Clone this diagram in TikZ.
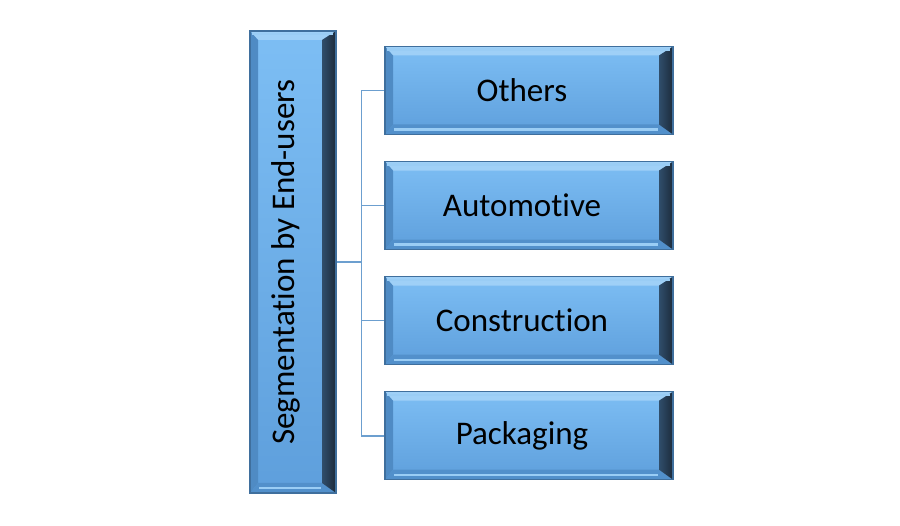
\documentclass[tikz,border=0pt]{standalone}
\usepackage{fontspec}
\setmainfont{Carlito}[Ligatures=NoCommon]
\usepackage{graphicx}
\usetikzlibrary{positioning,calc}
\definecolor{facetop}{HTML}{7DBEF4}
\definecolor{facebot}{HTML}{5E9FDC}
\definecolor{bevtop}{HTML}{9FD0F7}
\definecolor{bevleft}{HTML}{4F8BC4}
\definecolor{bevright}{HTML}{1C2B3B}
\definecolor{bevbot}{HTML}{5290CB}
\definecolor{shine}{HTML}{9ACDF5}
\definecolor{linkblue}{HTML}{6C9FCF}

\begin{document}
\begin{tikzpicture}[node distance=2.6mm, font=\fontsize{9.4}{11}\selectfont]
\tikzstyle{seg}=[rectangle, inner sep=0pt, top color=facetop, bottom color=facebot, draw=bevleft!80!black, line width=0.3pt,
  execute at end node={\hspace*{1.4mm}},
  path picture={
    \fill[bevtop] (path picture bounding box.north west) -- (path picture bounding box.north east)
      -- ([shift={(-1.4mm,-0.9mm)}]path picture bounding box.north east) -- ([shift={(0.8mm,-0.9mm)}]path picture bounding box.north west) -- cycle;
    \fill[bevleft] (path picture bounding box.north west) -- ([shift={(0.8mm,-0.9mm)}]path picture bounding box.north west)
      -- ([shift={(0.8mm,1mm)}]path picture bounding box.south west) -- (path picture bounding box.south west) -- cycle;
    \fill[bevbot] (path picture bounding box.south west) -- ([shift={(0.8mm,1mm)}]path picture bounding box.south west)
      -- ([shift={(-1.4mm,1mm)}]path picture bounding box.south east) -- (path picture bounding box.south east) -- cycle;
    \shade[left color=bevright!70!facebot, right color=bevright] (path picture bounding box.north east) -- ([shift={(-1.4mm,-0.9mm)}]path picture bounding box.north east)
      -- ([shift={(-1.4mm,1mm)}]path picture bounding box.south east) -- (path picture bounding box.south east) -- cycle;
    \draw[shine, line width=0.6pt] ([shift={(0.9mm,0.5mm)}]path picture bounding box.south west) -- ([shift={(-1.5mm,0.5mm)}]path picture bounding box.south east);
    \draw[shine, line width=0.6pt] ([shift={(0.2mm,-0.3mm)}]path picture bounding box.north west) -- ([shift={(-0.3mm,-0.3mm)}]path picture bounding box.north east);
  }]
\tikzstyle{item}=[seg, minimum width=28.8mm, minimum height=8.8mm]
\tikzstyle{link}=[draw=linkblue, line width=0.5pt]
\useasboundingbox (0,0) rectangle (9,5.25);

\node[seg, minimum width=8.6mm, minimum height=46.2mm] (enduser) at (2.93,2.63) {\rotatebox{90}{Segmentation by End-users}};
\node[item] (others) at (5.29,4.345) {Others};
\node[item, below=of others] (automotive) {Automotive};
\node[item, below=of automotive] (construction) {Construction};
\node[item, below=of construction] (packaging) {Packaging};

\coordinate (hub) at ($(enduser.east)+(2.5mm,0)$);
\draw[link] (enduser.east) -- (hub);
\foreach \n in {others,automotive,construction,packaging}
  \draw[link] (hub) |- (\n.west);
\end{tikzpicture}
\end{document}
